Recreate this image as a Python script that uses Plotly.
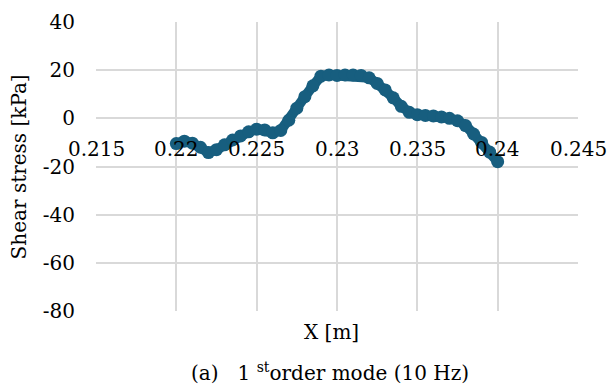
import plotly.graph_objects as go

# ---- data ----
x_m = [0.2200, 0.2205, 0.2210, 0.2215, 0.2220, 0.2225, 0.2230, 0.2235, 0.2240,
       0.2245, 0.2250, 0.2255, 0.2260, 0.2265, 0.2270, 0.2275, 0.2280, 0.2285,
       0.2290, 0.2295, 0.2300, 0.2305, 0.2310, 0.2315, 0.2320, 0.2325, 0.2330,
       0.2335, 0.2340, 0.2345, 0.2350, 0.2355, 0.2360, 0.2365, 0.2370, 0.2375,
       0.2380, 0.2385, 0.2390, 0.2395, 0.2400]
shear_kpa = [-10.5, -9.5, -10.3, -12.0, -14.2, -13.0, -11.0, -9.0, -7.3,
             -5.6, -4.5, -4.8, -6.0, -5.0, -0.8, 4.2, 9.0, 13.5,
             17.5, 18.0, 17.8, 18.0, 18.0, 17.8, 16.8, 14.5, 11.8,
             8.5, 5.0, 2.5, 1.5, 1.2, 1.0, 0.6, 0.0, -1.0,
             -3.0, -6.5, -10.0, -14.0, -18.0]

x_ticks = [0.215, 0.22, 0.225, 0.23, 0.235, 0.24, 0.245]
x_tick_labels = ["0.215", "0.22", "0.225", "0.23", "0.235", "0.24", "0.245"]
y_ticks = [40, 20, 0, -20, -40, -60, -80]
y_tick_labels = ["40", "20", "0", "-20", "-40", "-60", "-80"]

FONT = "DejaVu Serif"
CAP_FONT = "DejaVu Serif"
COLOR = "#175E7F"
GRID = "#d9d9d9"

fig = go.Figure()
fig.add_trace(go.Scatter(
    x=x_m, y=shear_kpa, mode="lines+markers",
    line=dict(color=COLOR, width=10),
    marker=dict(size=13, color=COLOR),
    showlegend=False, cliponaxis=False, hoverinfo="skip",
))

annotations = []
for v, lab in zip(x_ticks, x_tick_labels):
    annotations.append(dict(
        x=v, y=0, xref="x", yref="y", text=lab, showarrow=False,
        xanchor="center", yanchor="middle", yshift=-31,
        font=dict(family=FONT, size=20, color="#000000"),
    ))

# axis titles and caption
annotations.append(dict(
    x=-0.16, y=0.5, xref="paper", yref="paper", text="Shear stress [kPa]",
    textangle=-90, showarrow=False, xanchor="center", yanchor="middle",
    font=dict(family=FONT, size=20, color="#000000"),
))
annotations.append(dict(
    x=0.489, y=-0.073, xref="paper", yref="paper", text="X [m]",
    showarrow=False, xanchor="center", yanchor="middle",
    font=dict(family=FONT, size=20, color="#000000"),
))
annotations.append(dict(
    x=0.485, y=-0.21, xref="paper", yref="paper",
    text="(a)\u00a0\u00a0\u00a01 <sup>st</sup>order mode (10 Hz)",
    showarrow=False, xanchor="center", yanchor="middle",
    font=dict(family=CAP_FONT, size=20, color="#000000"),
))

fig.update_layout(
    width=609, height=387,
    margin=dict(l=96, r=31, t=22, b=76, autoexpand=False),
    paper_bgcolor="white", plot_bgcolor="white",
    font=dict(family=FONT, size=20, color="#000000"),
    xaxis=dict(
        range=[0.215, 0.245], tickvals=x_ticks, showticklabels=False,
        showgrid=True, gridcolor=GRID, gridwidth=1.5,
        zeroline=False, showline=False, ticks="",
    ),
    yaxis=dict(
        range=[-80, 40], tickvals=y_ticks, ticktext=y_tick_labels,
        showgrid=True, gridcolor=GRID, gridwidth=1.5,
        zeroline=False, showline=False, ticks="",
        ticklabelstandoff=20,
        tickfont=dict(family=FONT, size=20, color="#000000"),
    ),
    annotations=annotations,
)

fig.write_html(
    "out.html",
    config={"displayModeBar": False},
    post_script="document.body.style.margin='0px';document.body.style.padding='0px';",
)
